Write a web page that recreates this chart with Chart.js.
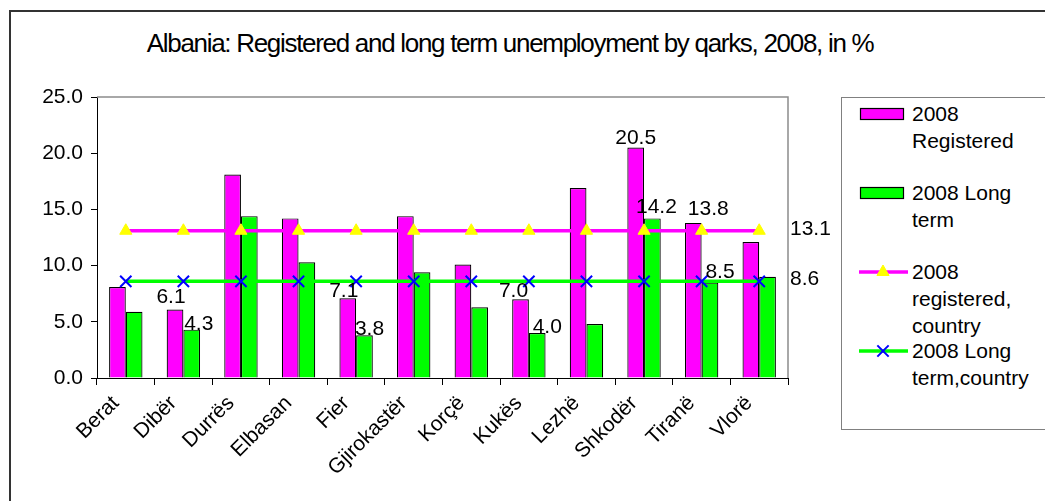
<!DOCTYPE html>
<html>
<head>
<meta charset="utf-8">
<title>Albania: registered and long term unemployment by qarks</title>
<script src="https://cdn.jsdelivr.net/npm/chart.js@4.4.1/dist/chart.umd.min.js"></script>
<style>
  html, body { margin: 0; padding: 0; background: #fff; overflow: hidden; }
  #wrap { position: relative; width: 1045px; height: 501px; overflow: hidden; font-family: "Liberation Sans", Arial, sans-serif; }
  #frame { position: absolute; left: 9px; top: 10px; width: 1200px; height: 700px; border: 2px solid #333; box-sizing: border-box; }
  #title { position: absolute; left: 0; top: 28px; width: 1020px; text-align: center; font-size: 26px; line-height: 30px; letter-spacing: -1.3px; color: #000; }
  #chart { position: absolute; left: 0; top: 0; }
  #legend { position: absolute; left: 841px; top: 97px; width: 300px; height: 333px; border: 1px solid #808080; box-sizing: border-box; background: #fff; }
  .item { position: absolute; left: 0; width: 100%; height: 79px; }
  .item .key { position: absolute; left: 15px; top: 4px; }
  .item .txt { position: absolute; left: 70px; top: 0; font-size: 21px; line-height: 27px; color: #000; white-space: pre; }
</style>
</head>
<body>
<div id="wrap">
  <div id="frame"></div>
  <div id="title">Albania: Registered and long term unemployment by qarks, 2008, in %</div>
  <canvas id="chart" width="1045" height="501"></canvas>
  <div id="legend"></div>
</div>
<script>
const qarks = ["Berat", "Dibër", "Durrës", "Elbasan", "Fier", "Gjirokastër", "Korçë", "Kukës", "Lezhë", "Shkodër", "Tiranë", "Vlorë"];
const registered = [8.1, 6.1, 18.1, 14.2, 7.1, 14.4, 10.1, 7.0, 16.9, 20.5, 13.8, 12.1];
const longTerm = [5.9, 4.3, 14.4, 10.3, 3.8, 9.4, 6.3, 4.0, 4.8, 14.2, 8.5, 9.0];
const registeredCountry = [13.1, 13.1, 13.1, 13.1, 13.1, 13.1, 13.1, 13.1, 13.1, 13.1, 13.1, 13.1];
const longTermCountry = [8.6, 8.6, 8.6, 8.6, 8.6, 8.6, 8.6, 8.6, 8.6, 8.6, 8.6, 8.6];
const yTicks = [0, 5, 10, 15, 20, 25];
const seriesNames = ["2008\nRegistered", "2008 Long\nterm", "2008\nregistered,\ncountry", "2008 Long\nterm,country"];
// qarks whose bars carry a value label
const labelledQarks = ["Dibër", "Fier", "Kukës", "Shkodër", "Tiranë"];

Chart.defaults.font.family = '"Liberation Sans", Arial, sans-serif';
Chart.defaults.font.size = 21;
Chart.defaults.color = "#000";

// value labels above some bars, and country values right of the lines
const valueLabels = {
  id: "valueLabels",
  afterDatasetsDraw(chart, args, opts) {
    const ctx = chart.ctx;
    ctx.save();
    ctx.font = '21px "Liberation Sans", Arial, sans-serif';
    ctx.fillStyle = "#000";
    ctx.textAlign = "center";
    ctx.textBaseline = "alphabetic";
    [0, 1].forEach((di) => {
      let meta = chart.getDatasetMeta(di);
      labelledQarks.forEach((q) => {
        let i = qarks.indexOf(q);
        let bar = meta.data[i];
        let shift = opts.shift[q][di];
        let v = chart.data.datasets[di].data[i];
        ctx.fillText(v.toFixed(1), bar.x + shift[0], bar.y - shift[1]);
      });
    });
    ctx.textAlign = "left";
    ctx.textBaseline = "middle";
    [2, 3].forEach((di) => {
      let meta = chart.getDatasetMeta(di);
      let last = meta.data.length - 1;
      let pt = meta.data[last];
      let v = chart.data.datasets[di].data[last];
      ctx.fillText(v.toFixed(1), chart.chartArea.right + 2, pt.y - 2);
    });
    ctx.restore();
  },
};

// gray top and right edge of the plot area
const plotFrame = {
  id: "plotFrame",
  beforeDatasetsDraw(chart) {
    const { ctx, chartArea } = chart;
    ctx.save();
    ctx.strokeStyle = "#8c8c8c";
    ctx.lineWidth = 1.5;
    ctx.beginPath();
    ctx.moveTo(chartArea.left, chartArea.top);
    ctx.lineTo(chartArea.right, chartArea.top);
    ctx.lineTo(chartArea.right, chartArea.bottom);
    ctx.stroke();
    ctx.restore();
  },
};

let chart = new Chart("chart", {
  type: "bar",
  data: {
    labels: qarks,
    datasets: [
      {
        label: seriesNames[0],
        data: registered,
        backgroundColor: "#ff00ff",
        borderColor: "#000",
        borderWidth: 1.2,
        barPercentage: 1,
        categoryPercentage: 0.58,
        order: 1,
      },
      {
        label: seriesNames[1],
        data: longTerm,
        backgroundColor: "#00ff00",
        borderColor: "#000",
        borderWidth: 1.2,
        barPercentage: 1,
        categoryPercentage: 0.58,
        order: 1,
      },
      {
        type: "line",
        label: seriesNames[2],
        data: registeredCountry,
        borderColor: "#ff00ff",
        borderWidth: 3.5,
        pointStyle: "triangle",
        pointRadius: 7,
        pointBackgroundColor: "#ffff00",
        pointBorderColor: "#ffff00",
        pointBorderWidth: 1,
        order: 0,
      },
      {
        type: "line",
        label: seriesNames[3],
        data: longTermCountry,
        borderColor: "#00ff00",
        borderWidth: 3.5,
        pointStyle: "crossRot",
        pointRadius: 8,
        pointBorderColor: "#0000ff",
        pointBorderWidth: 2,
        order: 0,
      },
    ],
  },
  options: {
    responsive: false,
    animation: false,
    layout: {
      padding: { top: 97, left: 10, right: 257, bottom: 0 },
    },
    plugins: {
      legend: { display: false },
      title: { display: false },
      tooltip: { enabled: false },
      valueLabels: {
        shift: {
          "Dibër": [[-4, 6], [7, 0]],
          "Fier": [[-4, 1], [5, 0]],
          "Kukës": [[-7, 2], [10, 0]],
          "Shkodër": [[0, 4], [4, 5]],
          "Tiranë": [[15, 8], [10, 4]],
        },
      },
    },
    scales: {
      x: {
        afterFit: (scale) => {
          scale.height = 123;
        },
        ticks: {
          maxRotation: 45,
          minRotation: 45,
          autoSkip: false,
          padding: 6,
          labelOffset: -10,
        },
        grid: {
          offset: true,
          drawOnChartArea: false,
          tickLength: 7,
          color: "#000",
        },
        border: { color: "#000", width: 1 },
      },
      y: {
        min: 0,
        max: 25,
        afterFit: (scale) => {
          scale.width = 87;
        },
        afterBuildTicks: (scale) => {
          scale.ticks = yTicks.map((v) => ({ value: v }));
        },
        ticks: {
          padding: 8,
          callback: (v) => Number(v).toFixed(1),
        },
        grid: {
          drawOnChartArea: false,
          tickLength: 6,
          color: "#000",
        },
        border: { color: "#000", width: 1 },
      },
    },
  },
  plugins: [plotFrame, valueLabels],
});

// legend built from the chart's datasets
let legendBox = document.getElementById("legend");
chart.data.datasets.forEach((ds, k) => {
  let item = document.createElement("div");
  item.className = "item";
  item.style.top = 2 + k * 79 + "px";
  let key = document.createElement("canvas");
  key.className = "key";
  key.width = 52;
  key.height = 20;
  let c = key.getContext("2d");
  if (ds.type === "line") {
    c.strokeStyle = ds.borderColor;
    c.lineWidth = ds.borderWidth;
    c.beginPath();
    c.moveTo(2, 10);
    c.lineTo(51, 10);
    c.stroke();
    c.fillStyle = ds.pointBackgroundColor || ds.pointBorderColor;
    c.strokeStyle = ds.pointBorderColor;
    c.lineWidth = ds.pointBorderWidth;
    Chart.helpers.drawPoint(c, { pointStyle: ds.pointStyle, radius: ds.pointRadius, borderWidth: ds.pointBorderWidth, rotation: 0 }, 26, 10);
  } else {
    c.fillStyle = ds.backgroundColor;
    c.fillRect(3, 4, 44, 12);
    c.strokeStyle = "#000";
    c.lineWidth = 1.2;
    c.strokeRect(3.5, 4.5, 43, 11);
  }
  item.appendChild(key);
  let txt = document.createElement("div");
  txt.className = "txt";
  txt.textContent = ds.label;
  item.appendChild(txt);
  legendBox.appendChild(item);
});
</script>
</body>
</html>
